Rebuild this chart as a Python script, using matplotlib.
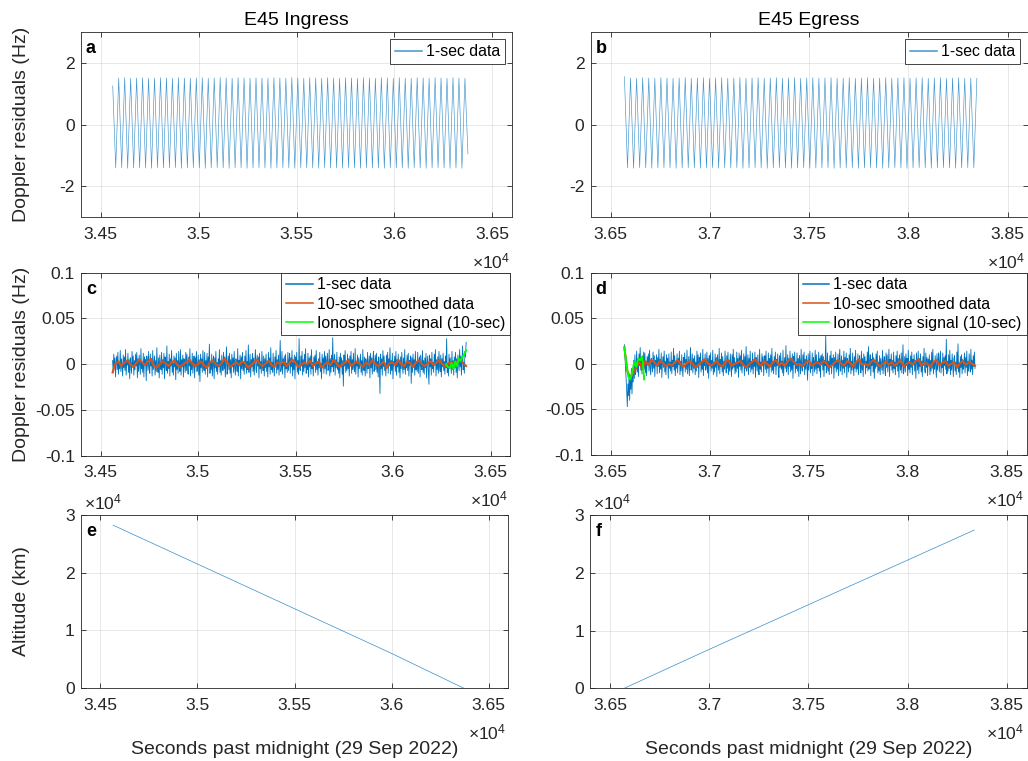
import numpy as np
import matplotlib
matplotlib.use('Agg')
import matplotlib.pyplot as plt
from matplotlib.transforms import offset_copy

plt.rcParams['font.family'] = ['Liberation Sans', 'DejaVu Sans']
plt.rcParams['mathtext.fontset'] = 'custom'
plt.rcParams['mathtext.rm'] = 'Liberation Sans'
plt.rcParams['mathtext.it'] = 'Liberation Sans'
plt.rcParams['axes.unicode_minus'] = False

# ---------------- data ----------------
# time spans (seconds past midnight)
ing_t0, ing_t1 = 34562, 36375
egr_t0, egr_t1 = 36570, 38345

# top panels: 1-sec Doppler residuals (Hz), extremes of each swing
ing_top = [1.25,
    -1.41,1.51,-1.40,1.52,-1.42,1.50,-1.41,1.51,-1.40,1.52,-1.41,1.50,-1.42,1.51,-1.40,1.52,-1.41,1.51,-1.41,1.50,
    -1.40,1.52,-1.42,1.51,-1.41,1.50,-1.40,1.51,-1.41,1.52,-1.42,1.50,-1.41,1.51,-1.40,1.52,-1.41,1.51,-1.42,1.50,
    -1.41,1.52,-1.40,1.51,-1.42,1.50,-1.41,1.52,-1.40,1.51,-1.41,1.50,-1.42,1.52,-1.41,1.51,-1.40,1.50,-1.41,1.52,
    -1.42,1.51,-1.40,1.50,-1.41,1.52,-1.41,1.51,-1.42,1.50,-1.40,1.52,-1.41,1.51,-1.41,1.50,-1.42,1.52,-1.40,1.51,
    -1.41,1.50,-1.42,1.52,-1.40,1.51,-1.41,1.50,-1.41,1.52,-1.42,1.51,-1.40,1.50,-1.41,1.52,-1.41,1.51,-1.42,1.50,
    -1.40,1.52,-1.41,1.51,-1.42,1.50,-1.41,1.52,-1.40,1.51,-1.41,1.50,-1.42,1.52,-1.41,1.51,-1.42,1.50,
    -0.95]
egr_top = [1.55,
    -1.41,1.51,-1.42,1.50,-1.40,1.52,-1.41,1.51,-1.42,1.50,-1.41,1.52,-1.40,1.51,-1.41,1.50,-1.42,1.51,-1.41,1.52,
    -1.40,1.50,-1.41,1.51,-1.42,1.52,-1.41,1.50,-1.40,1.51,-1.42,1.52,-1.41,1.50,-1.41,1.51,-1.40,1.52,-1.42,1.50,
    -1.41,1.51,-1.40,1.52,-1.41,1.50,-1.42,1.51,-1.41,1.52,-1.40,1.50,-1.41,1.51,-1.42,1.52,-1.41,1.50,-1.40,1.51,
    -1.42,1.52,-1.41,1.50,-1.41,1.51,-1.40,1.52,-1.42,1.50,-1.41,1.51,-1.41,1.52,-1.40,1.50,-1.42,1.51,-1.41,1.52,
    -1.40,1.50,-1.41,1.51,-1.42,1.52,-1.41,1.50,-1.40,1.51,-1.41,1.52,-1.42,1.50,-1.41,1.51,-1.40,1.52,-1.41,1.50,
    -1.42,1.51,-1.41,1.52,-1.40,1.50,-1.41,1.51,-1.42,1.52,-1.41,1.50,-1.40,1.51,-1.41,1.50]

# middle panels: residuals in mHz
ing_1s = [
    4,-9,11,-3,7,-14,2,9,-6,13,-11,1,-5,15,-8,6,-2,-13,10,-4,
    8,-7,16,-12,3,-1,12,-9,5,-16,7,0,-10,14,-3,9,-12,4,-6,11,
    -2,13,-15,6,-8,10,1,-11,17,-5,2,-9,12,-14,8,-1,5,-18,9,3,
    -7,14,-4,-10,11,-2,6,-13,15,-6,1,9,-12,4,-8,18,-3,-9,7,-15,
    10,-1,-6,13,-11,5,-4,12,-16,8,2,-7,20,-10,3,-5,11,-13,6,-2,
    15,-9,1,-12,9,-3,7,-17,12,-6,4,-10,14,-1,-8,16,-12,5,-3,10,
    -14,6,2,-9,13,-7,11,-4,-11,8,-2,17,-13,3,-6,12,-10,1,9,-15,
    7,-3,14,-8,-1,10,-12,5,-19,11,-4,6,-9,15,-2,-7,13,-11,4,-5,
    12,-14,8,-2,22,-10,3,-6,11,-13,1,9,-16,7,-4,14,-8,2,-11,6,
    -3,16,-9,4,-12,10,-1,-7,13,-5,8,-14,3,19,-11,-2,9,-6,12,-10,
    5,-15,11,-3,7,-9,14,-4,-12,6,1,-8,17,-13,4,-2,10,-16,8,-5,
    13,-7,2,-11,9,-4,15,-10,3,-6,21,-9,-1,11,-14,5,-3,12,-8,7,
    -12,4,16,-6,-9,10,-2,8,-15,12,-5,3,-10,14,-1,-7,9,-13,6,-4,
    11,-8,1,-14,13,-3,7,-11,18,-6,2,-9,12,-4,-13,8,-2,15,-10,5,
    -6,10,-12,3,26,-8,-4,14,-11,6,-2,9,-15,11,-5,1,-9,13,-7,4,
    12,-10,7,-3,15,-13,2,-6,10,-16,8,-1,13,-9,4,-11,28,-5,-7,9,
    -2,14,-12,5,-8,11,-4,17,-10,1,-6,12,-14,7,-3,9,-11,16,-5,2,
    -13,8,-1,10,-9,15,-6,3,-12,6,-4,13,-8,1,-16,11,-2,7,-10,14,
    -5,9,-11,4,12,-7,-2,16,-13,6,-9,10,-3,29,-8,-1,11,-12,5,-4,
    13,-6,2,-10,8,-15,12,-3,7,-11,4,-24,10,-2,15,-9,3,-7,11,-5,
    6,-13,9,-1,14,-10,5,-6,12,-4,-8,17,-11,3,-2,10,-14,7,-5,1,
    11,-9,4,-12,16,-3,-7,8,-13,6,2,-10,13,-5,-1,9,-15,12,-4,7,
    -11,5,14,-8,-2,10,-6,12,-9,3,-14,8,-1,-32,11,-5,6,-12,15,-3,
    9,-7,1,-13,10,-4,13,-10,6,-2,18,-11,4,-7,12,-16,3,-1,9,-8,
    14,-12,5,-3,11,-9,2,-15,8,-5,13,-2,-10,7,-6,16,-11,1,-4,10,
    -7,12,-13,4,-1,9,-21,7,-9,11,-3,5,-12,14,-6,2,-8,13,-10,3,
    8,-14,10,-2,-6,15,-9,4,-11,7,-4,12,-15,1,9,-7,-22,10,-3,6,
    -12,13,-5,2,-9,11,-1,16,-13,5,-6,8,-10,14,-2,-8,10,-14,6,-3,
    12,-7,3,-11,9,-4,28,-9,1,-13,11,-5,7,-2,-10,14,-6,4,-12,8,
    -4,13,-9,6,-15,10,1,-7,16,-3,9,-12,5,20,-6,2,-10,14,8,24]
ing_10s = [
    -9,1,3,-2,2,4,0,-3,1,5,2,-1,3,6,-2,-4,0,3,1,-2,
    2,4,-1,-3,0,2,5,1,-2,0,3,-1,-4,2,4,0,-2,1,6,2,
    -3,0,2,-1,3,1,-4,-1,2,5,0,-2,1,4,-1,-3,2,0,3,-2,
    1,5,2,-3,-1,2,0,4,-2,1,3,-4,0,2,-1,5,1,-3,0,2,
    4,-2,1,3,0,-3,2,-1,4,1,-2,0,3,-4,1,2,-1,5,0,-2,
    3,1,-3,2,4,0,-2,1,3,-1,2,4,0,-3,1,2,-1,3,5,1,
    -2]
ing_iono_t0, ing_iono_t1 = 36272, 36375
ing_iono = [0,-3,-4,1,-5,3,-2,6,4,8,11,15]

egr_1s = [
    21,8,-6,-18,-30,-47,-22,-35,-12,-40,-15,-28,-5,-33,-8,-20,4,-16,10,-12,
    -3,14,-9,6,-14,11,-2,18,-7,5,-11,9,-4,13,-6,12,-10,3,-13,8,
    -1,11,-8,15,-4,-12,6,2,-9,13,-5,9,-14,4,-2,10,-11,7,-3,16,
    -10,5,-6,12,-15,1,8,-4,14,-9,3,-12,10,-2,6,-16,11,-5,2,-8,
    13,-11,4,-3,17,-7,9,-13,2,-5,11,-10,6,-1,14,-12,3,-8,10,-4,
    -14,7,1,12,-9,5,-6,15,-11,-2,8,-13,4,18,-7,-3,11,-10,6,-5,
    9,-12,2,-8,14,-4,10,-15,7,-1,12,-9,3,-6,16,-13,5,-2,11,-7,
    -3,13,-10,6,-16,9,-1,12,-8,4,-5,15,-12,2,-9,11,-4,7,-14,10,
    1,-7,17,-11,5,-3,12,-9,8,-13,3,-6,14,-2,-10,9,-5,13,-12,4,
    -8,11,-1,-14,10,-6,16,-4,7,-11,2,-9,13,-5,6,-15,12,-3,9,-7,
    15,-10,4,-2,11,-13,8,-5,19,-8,-1,10,-12,6,-4,14,-9,3,-6,12,
    -11,5,-3,13,-15,7,1,-8,10,-4,-12,16,-6,2,-9,11,-2,8,-13,4,
    9,-6,14,-10,3,-5,12,-14,6,-1,10,-9,17,-7,2,-11,8,-3,13,-12,
    5,-2,11,-8,-15,9,-4,12,-6,3,-10,15,-13,1,7,-5,20,-9,-2,10,
    -12,6,-3,14,-9,4,-7,11,-16,8,-1,13,-10,2,-5,12,-8,6,-14,9,
    3,-11,16,-4,-8,10,-2,13,-12,5,-6,9,-3,-18,11,-7,4,14,-10,1,
    -5,12,-13,7,2,-9,15,-6,10,-11,3,-4,13,-8,6,-15,9,-1,11,-7,
    8,-14,4,-2,31,-10,-5,12,-8,3,-12,9,-3,14,-11,6,-1,10,-16,7,
    -4,13,-9,2,-6,11,-13,5,16,-8,-1,9,-12,4,-5,14,-10,7,-3,12,
    -15,6,1,-9,10,-4,17,-11,3,-7,12,-2,-13,8,-5,15,-9,2,-6,11,
    -12,4,9,-3,-10,14,-7,6,-14,11,-1,8,-11,3,-4,13,-8,19,-6,1,
    10,-13,5,-2,12,-9,7,-16,4,-5,11,-3,14,-10,2,-8,9,-12,6,-1,
    -7,15,-11,3,8,-6,-13,12,-4,10,-9,1,16,-14,5,-2,11,-7,4,-10,
    13,-5,2,-12,9,-3,14,-8,6,-15,10,-1,-7,12,-10,3,21,-11,-4,8,
    -9,11,-2,6,-13,15,-6,1,-10,9,-4,13,-12,5,-1,10,-8,4,-16,12,
    2,-7,14,-11,6,-3,11,-9,3,-14,8,-2,17,-6,-10,12,-4,7,-13,5,
    -1,10,-12,4,-8,13,-5,16,-11,2,-6,9,-3,-15,11,-7,5,12,-9,3,
    14,-10,1,-4,12,-13,7,-2,9,-6,27,-11,3,-8,10,-5,15,-12,4,-7,
    11,-3,-14,6,9,-8,2,-12,13,-5,22,-9,1,-15,8,-4,10,-11,5,-6,
    -2,12,-10,7,-4,14,-13,3,-8,11,-1,-9,16,-6,4,-12,9,-3,13,-5]
egr_10s = [
    18,-8,-15,-10,-4,2,-6,3,-1,4,
    2,-2,3,1,-3,0,-2,2,4,-1,-3,1,3,0,-4,-1,2,5,1,-2,
    0,3,-1,-3,2,4,-2,0,1,3,-1,-4,0,2,5,1,-2,3,0,-3,
    2,4,-1,1,-2,3,6,2,-1,0,-3,1,4,-2,0,2,-1,3,1,-4,
    -1,2,4,0,-2,3,1,-3,2,5,-1,0,-2,2,4,1,-3,0,3,-1,
    2,-2,1,4,-3,0,2,-1,3,5,-2,1,0,-3,2,4,-1,1,3,-2,
    0,2,-4,1,3,-1,2,0,-2]
egr_iono_t0, egr_iono_t1 = 36570, 36670
egr_iono = [18,0,-14,-17,-9,2,-3,6,4,8,-17]

# bottom panels: altitude (km)
ing_alt_t = [34565, 35000, 35500, 36000, 36370]
ing_alt = [28240, 21500, 13750, 6000, 0]
egr_alt_t = [36571, 37000, 37500, 38000, 38336]
egr_alt = [0, 6750, 14470, 22200, 27400]

ing_xticks = [34500, 35000, 35500, 36000, 36500]
ing_xlabels = ['3.45', '3.5', '3.55', '3.6', '3.65']
egr_xticks = [36500, 37000, 37500, 38000, 38500]
egr_xlabels = ['3.65', '3.7', '3.75', '3.8', '3.85']

# ---------------- figure ----------------
W, H = 1028, 761
fig = plt.figure(figsize=(W / 100, H / 100), dpi=100)
TXT = '#262626'
C1, C2, C3 = '#0072BD', '#D95319', '#00FF00'


def add_ax(l, r, t, b):
    return fig.add_axes([l / W, 1 - b / H, (r - l) / W, (b - t) / H])


def style(ax, xlim, xticks, xlabels, ylim, yticks, ylabels):
    ax.set_xlim(xlim)
    ax.set_ylim(ylim)
    ax.set_xticks(xticks)
    ax.set_xticklabels(xlabels)
    ax.set_yticks(yticks)
    ax.set_yticklabels(ylabels)
    ax.grid(True, color=TXT, alpha=0.12, lw=0.6)
    ax.set_axisbelow(True)
    ax.tick_params(direction='in', length=3.5, width=0.6, top=True, right=True,
                   colors=TXT, labelsize=12.6)
    ax.tick_params(axis='x', pad=7)
    ax.tick_params(axis='y', pad=4.5)
    for s in ax.spines.values():
        s.set_color(TXT)
        s.set_linewidth(0.6)
    tr = offset_copy(ax.transAxes, fig=fig, x=-2, y=-51, units='dots')
    ax.text(1, 0, '×$10^{4}$', transform=tr, ha='right', va='baseline',
            fontsize=12.6, color=TXT)


def letter(ax, s):
    tr = offset_copy(ax.transAxes, fig=fig, x=5, y=-21, units='dots')
    ax.text(0, 1, s, transform=tr, ha='left', va='baseline', fontsize=13,
            fontweight='bold', color='#000000')


def yexp(ax):
    tr = offset_copy(ax.transAxes, fig=fig, x=3, y=6, units='dots')
    ax.text(0, 1, '×$10^{4}$', transform=tr, ha='left', va='baseline',
            fontsize=12.6, color=TXT)


def ylab(ax, s, t, b):
    ax.set_ylabel(s, fontsize=14, color=TXT)
    ax.yaxis.set_label_coords(22 / W, 1 - (t + b) / 2 / H, transform=fig.transFigure)
    ax.yaxis.label.set_verticalalignment('center')


def xlab(ax, s, l, r):
    ax.set_xlabel(s, fontsize=14, color=TXT)
    ax.xaxis.set_label_coords((l + r) / 2 / W, 1 - 754 / H, transform=fig.transFigure)
    ax.xaxis.label.set_verticalalignment('baseline')


leg_kw = dict(loc='upper right', fontsize=11.4, fancybox=False, framealpha=1,
              edgecolor=TXT, handlelength=1.7, handletextpad=0.25,
              borderpad=0.3, labelspacing=0.26)


def legend(ax, pad):
    lg = ax.legend(borderaxespad=pad, **leg_kw)
    lg.get_frame().set_linewidth(0.6)
    for t in lg.get_texts():
        t.set_color('#000000')
    for ln in lg.get_lines():
        ln.set_linewidth(1.1)
    return lg


ing_lim = (34400, 36600)
egr_lim = (36400, 38600)

# ---- panel a ----
axa = add_ax(81, 512, 32, 217)
axa.plot(np.linspace(ing_t0, ing_t1, len(ing_top)), ing_top, color=C1, lw=0.45,
         alpha=0.75, label='1-sec data')
style(axa, ing_lim, ing_xticks, ing_xlabels, (-3, 3), [-2, 0, 2], ['-2', '0', '2'])
axa.set_title('E45 Ingress', fontsize=14, pad=5, color='#000000')
letter(axa, 'a')
legend(axa, 0.47)
ylab(axa, 'Doppler residuals (Hz)', 32, 217)

# ---- panel b ----
axb = add_ax(590.7, 1027.5, 32, 217)
axb.plot(np.linspace(egr_t0, egr_t1, len(egr_top)), egr_top, color=C1, lw=0.45,
         alpha=0.75, label='1-sec data')
style(axb, egr_lim, egr_xticks, egr_xlabels, (-3, 3), [-2, 0, 2], ['-2', '0', '2'])
axb.set_title('E45 Egress', fontsize=14, pad=5, color='#000000')
letter(axb, 'b')
legend(axb, 0.47)

mid_yt = [-0.1, -0.05, 0, 0.05, 0.1]
mid_yl = ['-0.1', '-0.05', '0', '0.05', '0.1']

# ---- panel c ----
axc = add_ax(81, 510, 272.7, 455.7)
axc.plot(np.linspace(ing_t0, ing_t1, len(ing_1s)), np.array(ing_1s) * 1e-3,
         color=C1, lw=0.6, label='1-sec data')
axc.plot(np.linspace(ing_t0, ing_t1, len(ing_10s)), np.array(ing_10s) * 1e-3,
         color=C2, lw=1.5, label='10-sec smoothed data')
axc.plot(np.linspace(ing_iono_t0, ing_iono_t1, len(ing_iono)), np.array(ing_iono) * 1e-3,
         color=C3, lw=1.4, label='Ionosphere signal (10-sec)')
style(axc, ing_lim, ing_xticks, ing_xlabels, (-0.1, 0.1), mid_yt, mid_yl)
letter(axc, 'c')
legend(axc, 0)
ylab(axc, 'Doppler residuals (Hz)', 272.7, 455.7)

# ---- panel d ----
axd = add_ax(590.7, 1026.5, 272.7, 455.0)
axd.plot(np.linspace(egr_t0, egr_t1 - 5, len(egr_1s)), np.array(egr_1s) * 1e-3,
         color=C1, lw=0.6, label='1-sec data')
axd.plot(np.linspace(egr_t0, egr_t1 - 5, len(egr_10s)), np.array(egr_10s) * 1e-3,
         color=C2, lw=1.5, label='10-sec smoothed data')
axd.plot(np.linspace(egr_iono_t0, egr_iono_t1, len(egr_iono)), np.array(egr_iono) * 1e-3,
         color=C3, lw=1.4, label='Ionosphere signal (10-sec)')
style(axd, egr_lim, egr_xticks, egr_xlabels, (-0.1, 0.1), mid_yt, mid_yl)
letter(axd, 'd')
legend(axd, 0)

# ---- panel e ----
axe = add_ax(81, 508, 515, 688)
axe.plot(ing_alt_t, ing_alt, color=C1, lw=0.5, alpha=0.8)
style(axe, ing_lim, ing_xticks, ing_xlabels, (0, 30000), [0, 10000, 20000, 30000],
      ['0', '1', '2', '3'])
letter(axe, 'e')
yexp(axe)
ylab(axe, 'Altitude (km)', 515, 688)
xlab(axe, 'Seconds past midnight (29 Sep 2022)', 81, 508)

# ---- panel f ----
axf = add_ax(590.3, 1026.7, 515, 688.3)
axf.plot(egr_alt_t, egr_alt, color=C1, lw=0.5, alpha=0.8)
style(axf, egr_lim, egr_xticks, egr_xlabels, (0, 30000), [0, 10000, 20000, 30000],
      ['0', '1', '2', '3'])
letter(axf, 'f')
yexp(axf)
xlab(axf, 'Seconds past midnight (29 Sep 2022)', 590.3, 1026.7)

fig.savefig('out.png', dpi=100)
